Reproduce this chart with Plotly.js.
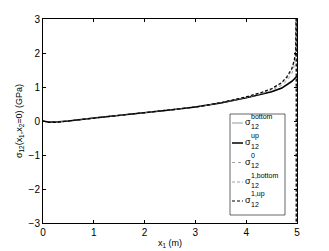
<!DOCTYPE html>
<html><head><meta charset="utf-8">
<script src="https://cdn.plot.ly/plotly-3.0.1.min.js"></script>
<style>body{margin:0;background:#fff}#c{width:329px;height:251px}</style>
</head><body><div id="c"></div>
<script>
const xBase = [0, 0.1, 0.25, 0.5, 1, 1.5, 2, 2.5, 3, 3.5, 4, 4.3, 4.5, 4.7, 4.8, 4.9, 4.95, 5];
const sBottom = [0, -0.03, -0.03, 0, 0.09, 0.16, 0.24, 0.32, 0.41, 0.53, 0.68, 0.78, 0.86, 0.96, 1.04, 1.14, 1.22, 1.3];
const sUp =     [0, -0.03, -0.03, 0, 0.09, 0.16, 0.24, 0.32, 0.41, 0.53, 0.68, 0.78, 0.86, 0.97, 1.06, 1.17, 1.24, 1.32];
const x0 =      [0, 0.1, 0.25, 0.5, 1, 1.5, 2, 2.5, 3, 3.5, 4, 4.3, 4.5, 4.7, 4.8, 4.9, 4.95, 4.98, 5];
const s0 =      [0, -0.03, -0.03, 0, 0.09, 0.16, 0.24, 0.32, 0.41, 0.53, 0.69, 0.80, 0.90, 1.05, 1.18, 1.40, 1.65, 1.95, 2.3];
const x1 =      [0, 0.1, 0.25, 0.5, 1, 1.5, 2, 2.5, 3, 3.5, 4, 4.3, 4.5, 4.7, 4.8, 4.9, 4.95, 4.975, 4.985, 4.985];
const s1Bottom = [0, -0.04, -0.04, 0, 0.09, 0.16, 0.24, 0.32, 0.41, 0.54, 0.70, 0.82, 0.93, 1.10, 1.25, 1.50, 1.75, 2.0, 3.5, -3.5];
const s1Up =     [0, -0.04, -0.04, 0, 0.09, 0.16, 0.24, 0.32, 0.41, 0.54, 0.71, 0.84, 0.95, 1.13, 1.30, 1.55, 1.82, 2.1, 3.5, -3.5];
const legendSup = ['bottom', 'up', '0', '1,bottom', '1,up'];
const legendSub = '12';
const xTicks = [0, 1, 2, 3, 4, 5];
const yTicks = [-3, -2, -1, 0, 1, 2, 3];

const styles = [
  {color: '#555', width: 0.6, dash: 'solid'},
  {color: '#000', width: 1.5, dash: 'solid'},
  {color: '#888', width: 0.8, dash: 'dot'},
  {color: '#888', width: 0.8, dash: '3px,2px'},
  {color: '#000', width: 1.2, dash: '3px,2px'}
];
const xs = [xBase, xBase, x0, x1, x1];
const ys = [sBottom, sUp, s0, s1Bottom, s1Up];
const traces = ys.map((y, i) => ({
  type: 'scatter', mode: 'lines', x: xs[i], y: y,
  name: 'σ' + legendSub + ' ' + legendSup[i], line: styles[i], showlegend: false
}));

// custom MATLAB-style legend (paper coords)
const L = 43, W = 254, B = 223, H = 204;
const px = v => (v - L) / W, py = v => (B - v) / H;
const shapes = [{type: 'rect', xref: 'paper', yref: 'paper',
  x0: px(230), x1: px(285), y0: py(215), y1: py(114),
  line: {color: '#000', width: 0.6}, fillcolor: '#fff', layer: 'above'}];
const annotations = [];
const rowY = [123, 143, 162.5, 182, 201];
const FF = 'Liberation Sans, Arial';
legendSup.forEach((s, i) => {
  const yc = rowY[i];
  shapes.push({type: 'line', xref: 'paper', yref: 'paper',
    x0: px(232), x1: px(243), y0: py(yc), y1: py(yc), line: styles[i], layer: 'above'});
  const mk = (x, y, text, size) => ({xref: 'paper', yref: 'paper', showarrow: false,
    xanchor: 'left', yanchor: 'middle', borderpad: 0, x: px(x), y: py(y), text: text,
    font: {family: FF, size: size, color: '#000000'}});
  annotations.push(mk(243.5, yc - 1, 'σ', 9));
  annotations.push(mk(249.5, yc - 7, s, 7));
  annotations.push(mk(249.5, yc + 3, legendSub, 7));
});

const ax = {
  showgrid: false, zeroline: false, showline: true, mirror: 'ticks',
  linecolor: '#000', linewidth: 1, ticks: 'inside', ticklen: 3, tickcolor: '#000',
  tickfont: {family: FF, size: 10, color: '#000'}
};
const layout = {
  width: 329, height: 251,
  margin: {l: 43, r: 32, t: 19, b: 28},
  paper_bgcolor: '#fff', plot_bgcolor: '#fff',
  font: {family: FF, size: 9, color: '#000'},
  xaxis: Object.assign({}, ax, {range: [0, 5], tickvals: xTicks,
    title: {text: 'x<sub>1</sub> (m)', font: {size: 9}, standoff: 2}}),
  yaxis: Object.assign({}, ax, {range: [-3, 3], tickvals: yTicks,
    title: {text: 'σ<sub>12</sub>(x<sub>1</sub>,x<sub>2</sub>=0) (GPa)', font: {size: 9}, standoff: 4}}),
  showlegend: false,
  shapes: shapes,
  annotations: annotations
};
Plotly.newPlot('c', traces, layout, {staticPlot: true, displayModeBar: false});
</script></body></html>
